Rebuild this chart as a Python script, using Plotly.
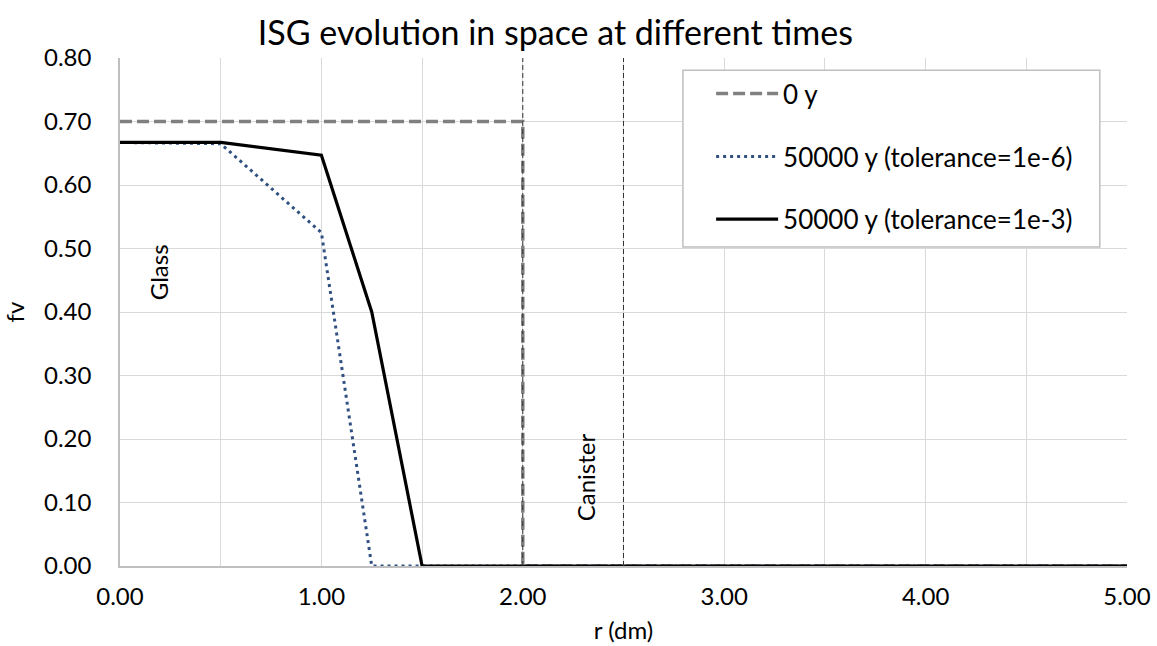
import plotly.graph_objects as go

# radial positions (dm) and volume fraction fv for each time
r = [0.0, 0.5, 1.0, 1.25, 1.5, 2.0, 2.5, 3.0, 3.5, 4.0, 4.5, 5.0]
fv_50000_tol6 = [0.667, 0.665, 0.525, 0.0, 0.0, 0.0, 0.0, 0.0, 0.0, 0.0, 0.0, 0.0]
fv_50000_tol3 = [0.667, 0.667, 0.647, 0.40, 0.0, 0.0, 0.0, 0.0, 0.0, 0.0, 0.0, 0.0]

r_initial = [0.0, 2.0, 2.0, 5.0]
fv_initial = [0.70, 0.70, 0.0, 0.0]

# boundaries glass / canister
boundaries = [2.0, 2.5]

x_ticks = [0.0, 0.5, 1.0, 1.5, 2.0, 2.5, 3.0, 3.5, 4.0, 4.5, 5.0]
x_labels = ["0.00", "", "1.00", "", "2.00", "", "3.00", "", "4.00", "", "5.00"]
y_ticks = [0.0, 0.1, 0.2, 0.3, 0.4, 0.5, 0.6, 0.7, 0.8]

FONT = "Lato"

fig = go.Figure()

fig.add_trace(go.Scatter(
    x=r_initial, y=fv_initial, mode="lines", name="0 y", legendgroup="a",
    line=dict(color="#808080", width=3.5, dash="12px,5px"),
))
fig.add_trace(go.Scatter(
    x=r, y=fv_50000_tol6, mode="lines", name="50000 y (tolerance=1e-6)", legendgroup="b",
    line=dict(color="#2F5080", width=3, dash="3px,4px"),
))
fig.add_trace(go.Scatter(
    x=r, y=fv_50000_tol3, mode="lines", name="50000 y (tolerance=1e-3)", legendgroup="c",
    line=dict(color="#000000", width=3.2),
))

for b in boundaries:
    fig.add_shape(type="line", x0=b, x1=b, y0=0, y1=0.8, xref="x", yref="y",
                  line=dict(color="#333333", width=1, dash="5px,3px"), layer="above")

# legend frame
fig.add_shape(type="rect", xref="paper", yref="paper",
              x0=0.559, x1=0.973, y0=0.628, y1=0.976,
              fillcolor="white", line=dict(color="#BFBFBF", width=1.5), layer="above")

fig.add_annotation(x=0.19, y=0.463, text="Glass", textangle=-90, showarrow=False,
                   font=dict(family=FONT, size=24, color="#000000"))
fig.add_annotation(x=2.31, y=0.14, text="Canister", textangle=-90, showarrow=False,
                   font=dict(family=FONT, size=24, color="#000000"))

fig.update_layout(
    width=1157, height=646,
    paper_bgcolor="white", plot_bgcolor="white",
    margin=dict(l=120, r=30, t=58, b=80),
    title=dict(text="ISG evolution in space at different times", x=0.48, xanchor="center",
               y=0.949, yanchor="middle",
               font=dict(family=FONT, size=34, color="#000000")),
    font=dict(family=FONT, size=24, color="#000000"),
    showlegend=True,
    legend=dict(x=0.587, y=0.976, xanchor="left", yanchor="top",
                bgcolor="rgba(0,0,0,0)", borderwidth=0,
                font=dict(family=FONT, size=26), tracegroupgap=26,
                itemwidth=62),
    xaxis=dict(range=[0, 5], tickvals=x_ticks, ticktext=x_labels,
               showgrid=True, gridcolor="#D9D9D9", gridwidth=1,
               showline=True, linecolor="#BFBFBF", linewidth=1.5,
               zeroline=False, ticks="", ticklabelstandoff=8, automargin=False,
               title=dict(text="r (dm)", font=dict(family=FONT, size=24), standoff=14)),
    yaxis=dict(range=[0, 0.8], tickvals=y_ticks, tickformat=".2f",
               showgrid=True, gridcolor="#D9D9D9", gridwidth=1,
               showline=True, linecolor="#BFBFBF", linewidth=1.5,
               zeroline=False, ticks="", ticklabelstandoff=22, automargin=False,
               title=dict(text="fv", font=dict(family=FONT, size=24), standoff=18)),
)

fig.write_html("out.html")
